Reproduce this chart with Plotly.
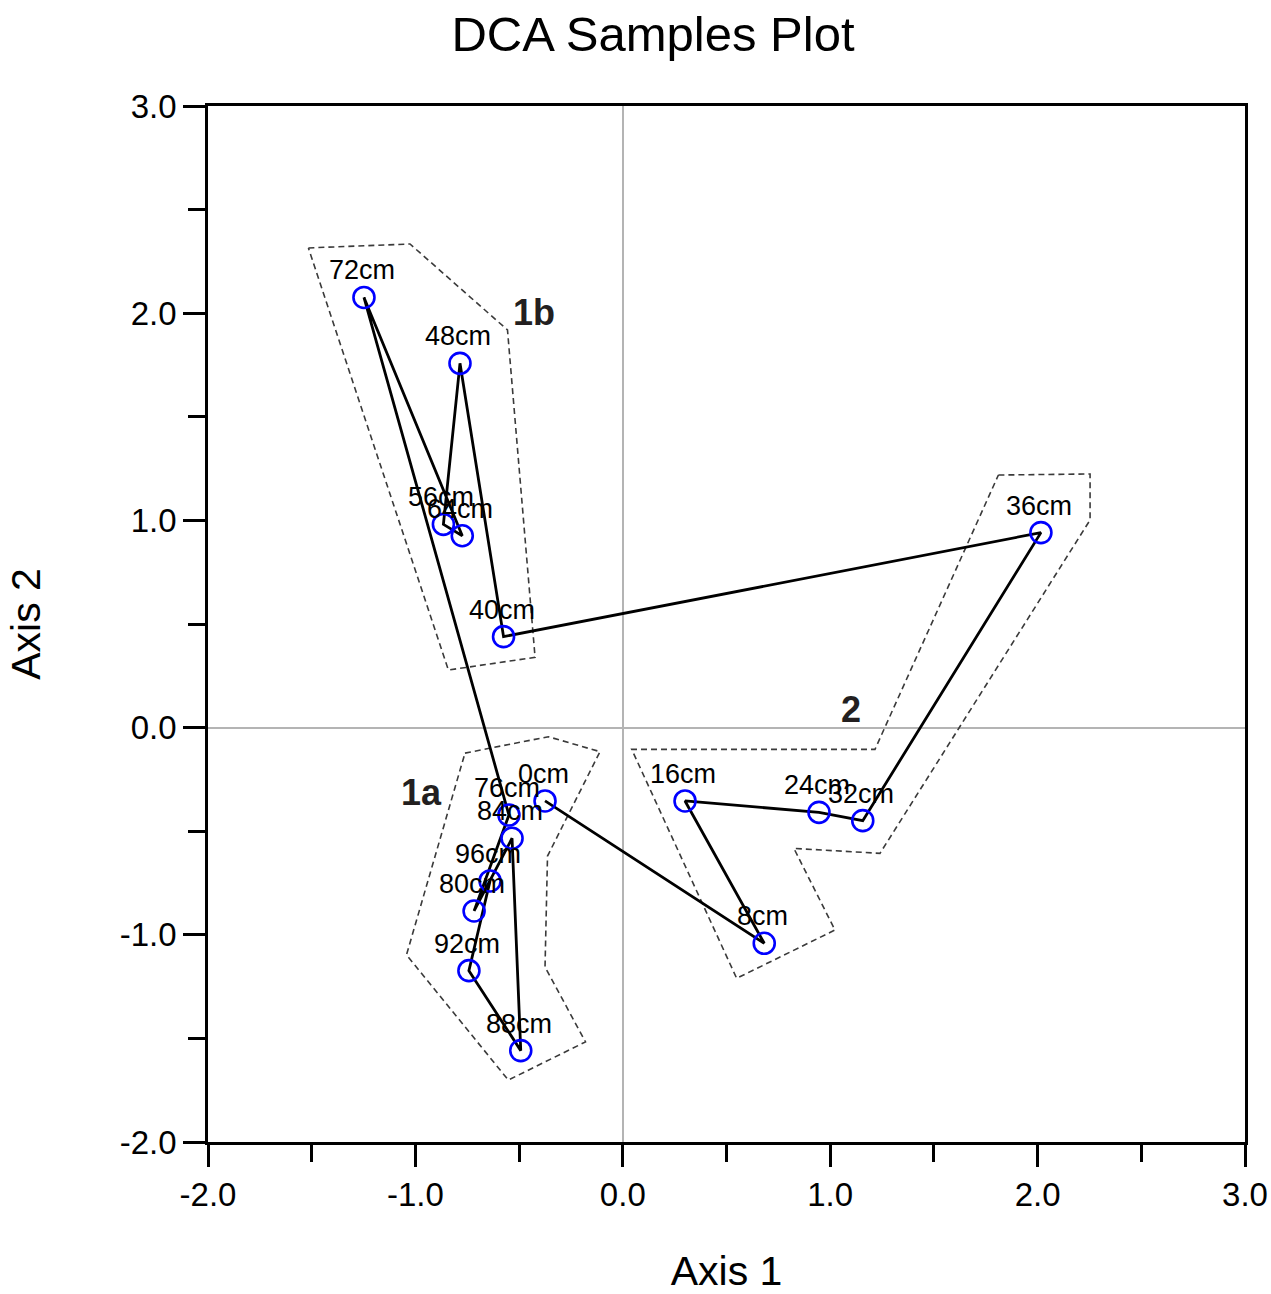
import plotly.graph_objects as go

# ---- Data ----
samples = ["0cm", "8cm", "16cm", "24cm", "32cm", "36cm", "40cm", "48cm", "56cm",
           "64cm", "72cm", "76cm", "80cm", "84cm", "88cm", "92cm", "96cm"]
axis1 = [-0.375, 0.682, 0.300, 0.946, 1.157, 2.016, -0.575, -0.785, -0.865,
         -0.774, -1.248, -0.549, -0.717, -0.534, -0.492, -0.742, -0.640]
axis2 = [-0.354, -1.041, -0.354, -0.409, -0.449, 0.941, 0.439, 1.758, 0.981,
         0.926, 2.076, -0.422, -0.885, -0.534, -1.559, -1.173, -0.740]

hull_1a_x = [-0.761, -0.359, -0.110, -0.363, -0.375, -0.180, -0.552, -1.043]
hull_1a_y = [-0.123, -0.044, -0.116, -0.620, -1.155, -1.517, -1.701, -1.097]
hull_1b_x = [-1.516, -1.026, -0.556, -0.423, -0.841]
hull_1b_y = [2.315, 2.334, 1.919, 0.339, 0.278]
hull_2_x = [1.811, 2.253, 2.253, 1.240, 0.825, 1.023, 0.549, 0.043, 1.216]
hull_2_y = [1.219, 1.224, 1.002, -0.607, -0.583, -0.977, -1.210, -0.105, -0.105]

group_names = ["1a", "1b", "2"]
group_x = [-0.973, -0.428, 1.100]
group_y = [-0.311, 2.001, 0.085]

x_ticks = [-2.0, -1.0, 0.0, 1.0, 2.0, 3.0]
y_ticks = [-2.0, -1.0, 0.0, 1.0, 2.0, 3.0]

FONT = "Liberation Sans, Arial, sans-serif"

fig = go.Figure()

# Group hulls (dashed)
for hx, hy in [(hull_1a_x, hull_1a_y), (hull_1b_x, hull_1b_y), (hull_2_x, hull_2_y)]:
    fig.add_trace(go.Scatter(
        x=hx + hx[:1], y=hy + hy[:1], mode="lines",
        line=dict(color="#3a3a3a", width=1.6, dash="6px,4px"),
        hoverinfo="skip", showlegend=False))

# Sample path
fig.add_trace(go.Scatter(
    x=axis1, y=axis2, mode="lines",
    line=dict(color="black", width=2.8),
    hoverinfo="skip", showlegend=False))

# Sample markers
fig.add_trace(go.Scatter(
    x=axis1, y=axis2, mode="markers", text=samples,
    marker=dict(symbol="circle-open", size=21, color="#0000ff",
                line=dict(width=2.6, color="#0000ff")),
    showlegend=False))

annotations = []
for s, x, y in zip(samples, axis1, axis2):
    annotations.append(dict(x=x, y=y, xref="x", yref="y", text=s, showarrow=False,
                            xshift=-2, yshift=27, yanchor="middle", xanchor="center",
                            font=dict(family=FONT, size=27, color="black")))
for g, x, y in zip(group_names, group_x, group_y):
    annotations.append(dict(x=x, y=y, xref="x", yref="y", text="<b>%s</b>" % g,
                            showarrow=False, yanchor="middle", xanchor="center",
                            font=dict(family=FONT, size=36, color="#231f20")))

axis_common = dict(
    showline=True, linecolor="black", linewidth=2.6, mirror=True,
    ticks="outside", ticklen=22, tickwidth=2.6, tickcolor="black",
    showgrid=False, zeroline=True, zerolinecolor="#b4b4b4", zerolinewidth=2,
    automargin=False,
    tickfont=dict(family=FONT, size=33, color="black"),
    minor=dict(ticks="outside", ticklen=17, tickwidth=2.6, tickcolor="black", dtick=0.5),
)

fig.update_layout(
    width=1271, height=1294,
    margin=dict(l=208, r=26, t=106, b=152),
    plot_bgcolor="white", paper_bgcolor="white",
    title=dict(text="DCA Samples Plot", x=653 / 1271, xref="container", xanchor="center",
               y=1 - 34 / 1294, yref="container", yanchor="middle",
               font=dict(family=FONT, size=49, color="black")),
    xaxis=dict(range=[-2, 3], tickvals=x_ticks,
               ticktext=["%.1f" % v for v in x_ticks],
               title=dict(text="Axis 1", standoff=44,
                          font=dict(family=FONT, size=41, color="black")),
               **axis_common),
    yaxis=dict(range=[-2, 3], tickvals=y_ticks,
               ticktext=["%.1f" % v for v in y_ticks],
               title=dict(text="Axis 2", standoff=67,
                          font=dict(family=FONT, size=41, color="black")),
               **axis_common),
    annotations=annotations,
    showlegend=False,
)

fig.write_html("out.html")
